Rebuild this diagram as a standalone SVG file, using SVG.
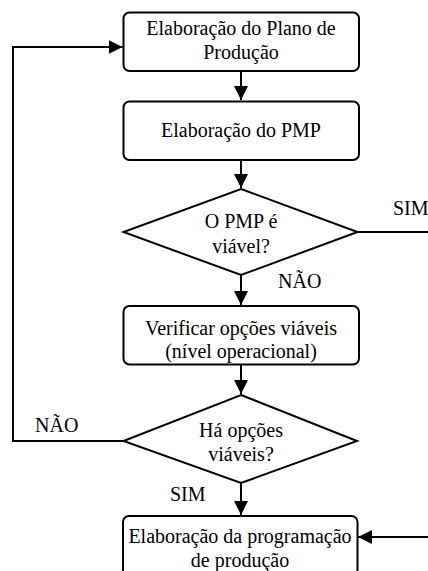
<svg xmlns="http://www.w3.org/2000/svg" width="428" height="571" viewBox="0 0 428 571">
  <style>
    .box { fill: #ffffff; stroke: #000000; stroke-width: 2; }
    .dec { fill: #ffffff; stroke: #000000; stroke-width: 2; stroke-linejoin: miter; }
    text { font-family: 'Liberation Serif', 'DejaVu Serif', 'Times New Roman', serif; font-size: 20px; fill: #000000; }
    .mid { text-anchor: middle; }
    .wire { fill: none; stroke: #000000; stroke-width: 2; }
  </style>
  <defs>
    <marker id="arrowBig" viewBox="0 0 14 14" refX="14" refY="7" markerWidth="14" markerHeight="14" markerUnits="userSpaceOnUse" orient="auto">
      <path d="M0,0 L14,7 L0,14 Z" fill="#000000"/>
    </marker>
  </defs>
  <rect width="428" height="571" fill="#ffffff"/>

  <!-- connectors and their labels -->
  <g id="connectors">
    <path class="wire" d="M241,71 V100" marker-end="url(#arrowBig)"/>
    <path class="wire" d="M241,160 V188" marker-end="url(#arrowBig)"/>
    <path class="wire" d="M357.5,232 H428"/>
    <path class="wire" d="M241,275 V305" marker-end="url(#arrowBig)"/>
    <path class="wire" d="M241,365 V394" marker-end="url(#arrowBig)"/>
    <path class="wire" d="M123.5,441 H13 V47 H122.5" marker-end="url(#arrowBig)"/>
    <path class="wire" d="M241,483 V515" marker-end="url(#arrowBig)"/>
    <path class="wire" d="M428,537 H358" marker-end="url(#arrowBig)"/>
    <text font-family="Liberation Serif, serif" x="393" y="215">SIM</text>
    <text font-family="Liberation Serif, serif" x="278" y="288">NÃO</text>
    <text font-family="Liberation Serif, serif" x="35" y="432">NÃO</text>
    <text font-family="Liberation Serif, serif" x="170" y="501">SIM</text>
  </g>

  <g id="plano-producao">
    <rect class="box" x="123.5" y="12.5" width="235.5" height="58.5" rx="6"/>
    <text class="mid" x="241" y="34.5">Elaboração do Plano de</text>
    <text class="mid" x="241" y="58.5">Produção</text>
  </g>

  <g id="pmp">
    <rect class="box" x="123.5" y="101.5" width="235.5" height="58.5" rx="6"/>
    <text class="mid" x="241" y="137">Elaboração do PMP</text>
  </g>

  <g id="pmp-viavel">
    <polygon class="dec" points="241,189 357.5,232 241,275 123.5,232"/>
    <text class="mid" x="241" y="228">O PMP é</text>
    <text class="mid" x="241" y="253">viável?</text>
  </g>

  <g id="verificar-opcoes">
    <rect class="box" x="123.5" y="306" width="235.5" height="58.5" rx="6"/>
    <text class="mid" x="241" y="335">Verificar opções viáveis</text>
    <text class="mid" x="241" y="358">(nível operacional)</text>
  </g>

  <g id="ha-opcoes">
    <polygon class="dec" points="241,395 357,441 241,483 123.5,441"/>
    <text class="mid" x="241" y="437">Há opções</text>
    <text class="mid" x="241" y="461">viáveis?</text>
  </g>

  <g id="programacao-producao">
    <rect class="box" x="123" y="516" width="234.5" height="60" rx="6"/>
    <text class="mid" x="240" y="543">Elaboração da programação</text>
    <text class="mid" x="240" y="567">de produção</text>
  </g>
</svg>
